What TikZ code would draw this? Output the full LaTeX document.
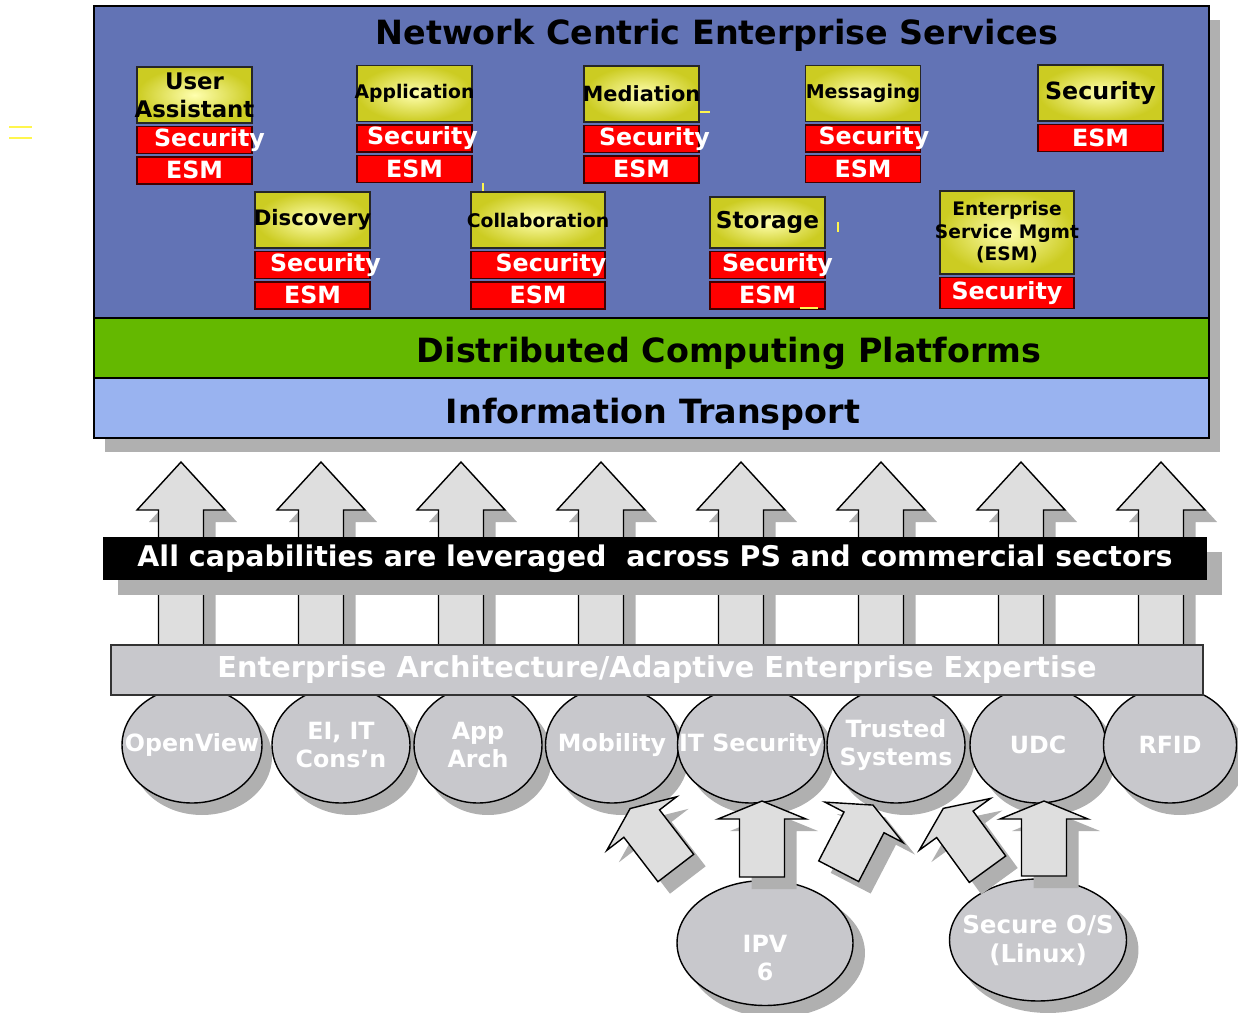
\documentclass[tikz,border=0pt]{standalone}
\usepackage{fontspec}
\setmainfont{DejaVu Sans}
\usetikzlibrary{positioning,shapes.geometric,shadows}

\definecolor{ncesblue}{RGB}{98,115,181}
\definecolor{dcpgreen}{RGB}{100,184,0}
\definecolor{itblue}{RGB}{153,179,240}
\definecolor{hdrin}{RGB}{255,255,175}
\definecolor{hdrout}{RGB}{204,204,34}
\definecolor{capgray}{RGB}{200,200,204}
\definecolor{arrgray}{RGB}{222,222,222}
\definecolor{shadegray}{RGB}{176,176,176}

\newcommand{\fs}[2]{\fontsize{#1}{#2}\selectfont\bfseries}
\newcommand{\nw}[1]{\makebox[0pt]{#1}}
\newcommand{\offtext}[2]{\makebox[0pt]{\hspace{#1}#2}}
% block arrow: tail point, angle, shaft length, head length
\newcommand{\blockarrow}[4]{%
  \fill[arrshade, shift={#1}, shift={(12,12)}, rotate=#2]
    (0,-22.5) -- (#3,-22.5) -- (#3,-44) -- ({#3+#4},0) -- (#3,44) -- (#3,22.5) -- (0,22.5) -- cycle;
  \draw[arrbody, shift={#1}, rotate=#2]
    (0,-22.5) -- (#3,-22.5) -- (#3,-44) -- ({#3+#4},0) -- (#3,44) -- (#3,22.5) -- (0,22.5) -- cycle;
}

\begin{document}
\begin{tikzpicture}[x=0.02cm,y=-0.02cm,
    dropsh/.style 2 args={drop shadow={shadow xshift=#1,shadow yshift=#2,fill=shadegray,opacity=1}},
    panel/.style={draw=black,line width=1pt,minimum width=22.3cm,inner sep=0pt,outer sep=0pt,
        dropsh={0.22cm}{-0.28cm}},
    hdr/.style={draw=black!85,line width=0.8pt,inner color=hdrin,outer color=hdrout,
        minimum width=#1,minimum height=1.12cm,inner sep=0pt,align=center},
    redbox/.style={draw=black!75!red,line width=0.8pt,fill=red,text=white,
        minimum width=#1,minimum height=0.54cm,inner sep=0pt,font=\fs{13.5pt}{15pt}},
    capcircle/.style={ellipse,draw=black,line width=0.8pt,fill=capgray,text=white,
        font=\fs{13.5pt}{16pt},align=center,inner sep=0pt,minimum height=2.32cm,
        minimum width=#1,dropsh={0.2cm}{-0.24cm}},
    arrbody/.style={draw=black,line width=0.8pt,fill=arrgray},
    arrshade/.style={fill=shadegray},
    stray/.style={draw=yellow!70,line width=0.6pt}]

    \useasboundingbox (0,0) rectangle (1238,1012);

    % Layered panel
    \node[panel,fill=ncesblue,minimum height=6.24cm] (nces) at (651.5,162) {};
    \node[panel,fill=dcpgreen,minimum height=1.2cm,below=0pt of nces] (dcp) {};
    \node[panel,fill=itblue,minimum height=1.2cm,below=0pt of dcp] (it) {};
    \node[font=\fs{19pt}{22pt}] (ncestitle) at (717,35) {Network Centric Enterprise Services};
    \node[font=\fs{19pt}{22pt}] (dcptitle) at (729,353) {Distributed Computing Platforms};
    \node[font=\fs{19pt}{22pt}] (ittitle) at (653,414) {Information Transport};

    % Services, first row
    \node[hdr=2.3cm,font=\fs{13pt}{16pt}] (ua) at (194.5,95) {User\\\nw{Assistant}};
    \node[redbox=2.3cm,below=0.04cm of ua] (uasec) {\offtext{0.6cm}{Security}};
    \node[redbox=2.3cm,below=0.04cm of uasec] (uaesm) {ESM};

    \node[hdr=2.3cm,font=\fs{10.7pt}{13pt}] (app) at (414.5,93.5) {\nw{Application}};
    \node[redbox=2.3cm,below=0.04cm of app] (appsec) {\offtext{0.32cm}{Security}};
    \node[redbox=2.3cm,below=0.04cm of appsec] (appesm) {ESM};

    \node[hdr=2.3cm,font=\fs{11.9pt}{14pt}] (med) at (641.5,94) {\nw{Mediation}};
    \node[redbox=2.3cm,below=0.04cm of med] (medsec) {\offtext{0.52cm}{Security}};
    \node[redbox=2.3cm,below=0.04cm of medsec] (medesm) {ESM};

    \node[hdr=2.3cm,font=\fs{10.8pt}{13pt}] (msg) at (863,93.5) {\nw{Messaging}};
    \node[redbox=2.3cm,below=0.04cm of msg] (msgsec) {\offtext{0.44cm}{Security}};
    \node[redbox=2.3cm,below=0.04cm of msgsec] (msgesm) {ESM};

    \node[hdr=2.5cm,font=\fs{13.5pt}{16pt}] (secu) at (1100.5,93) {Security};
    \node[redbox=2.5cm,below=0.04cm of secu] (secuesm) {ESM};

    % Services, second row
    \node[hdr=2.3cm,font=\fs{12.1pt}{14pt}] (disc) at (312.5,220) {\nw{Discovery}};
    \node[redbox=2.3cm,below=0.04cm of disc] (discsec) {\offtext{0.52cm}{Security}};
    \node[redbox=2.3cm,below=0.04cm of discsec] (discesm) {ESM};

    \node[hdr=2.68cm,font=\fs{10.7pt}{13pt}] (coll) at (538,220) {\nw{Collaboration}};
    \node[redbox=2.68cm,below=0.04cm of coll] (collsec) {\offtext{0.52cm}{Security}};
    \node[redbox=2.68cm,below=0.04cm of collsec] (collesm) {ESM};

    \node[hdr=2.3cm,minimum height=1.02cm,font=\fs{13.2pt}{16pt}] (stor) at (767.5,222.5) {\nw{Storage}};
    \node[redbox=2.3cm,below=0.04cm of stor] (storsec) {\offtext{0.4cm}{Security}};
    \node[redbox=2.3cm,below=0.04cm of storsec] (storesm) {ESM};

    \node[hdr=2.68cm,minimum height=1.66cm,font=\fs{10.6pt}{12.8pt}] (esm) at (1007,232.5)
        {Enterprise\\\nw{Service Mgmt}\\(ESM)};
    \node[redbox=2.68cm,minimum height=0.62cm,below=0.04cm of esm] (esmsec) {Security};

    % stray marks
    \draw[stray] (9,127) -- (32,127);
    \draw[stray] (9,138) -- (32,138);
    \draw[stray] (700,112) -- (710,112);
    \draw[stray] (483,183) -- (483,191);
    \draw[stray] (838,222) -- (838,232);
    \draw[stray] (800,308) -- (818,308);

    % Upward arrows
    \foreach \x in {181,321,461,601,741,881,1021,1161}{
        \blockarrow{(\x,650)}{90}{140}{48}
    }

    \node[fill=black,text=white,font=\fs{16.2pt}{18pt},minimum width=22.08cm,minimum height=0.86cm,
        inner sep=0pt,dropsh={0.3cm}{-0.3cm}] (lever) at (655,558.5)
        {\raisebox{-0.05cm}{All capabilities are leveraged\ \ across PS and commercial sectors}};

    % Capabilities
    \node[capcircle=2.8cm] (openview) at (192,745) {\nw{OpenView}};
    \node[capcircle=2.76cm] (eiit) at (341,745) {\nw{EI, IT}\\\nw{Cons’n}};
    \node[capcircle=2.56cm] (apparch) at (478,745) {\nw{App}\\\nw{Arch}};
    \node[capcircle=2.66cm] (mobility) at (612,745) {\nw{Mobility}};
    \node[capcircle=2.94cm] (itsec) at (751,745) {\nw{IT Security}};
    \node[capcircle=2.76cm] (trusted) at (896,745) {\nw{Trusted}\\\nw{Systems}};
    \node[capcircle=2.72cm] (udc) at (1038,745) {\nw{UDC}};
    \node[capcircle=2.66cm] (rfid) at (1170,745) {\nw{RFID}};

    \node[draw=black!80,line width=0.8pt,fill=capgray,text=white,font=\fs{16.4pt}{18pt},
        minimum width=21.84cm,minimum height=1cm,inner sep=0pt] (ea) at (657,670)
        {Enterprise Architecture/Adaptive Enterprise Expertise};

    \node[capcircle=3.52cm,minimum height=2.5cm,dropsh={0.24cm}{-0.2cm}] (ipv) at (765,943)
        {\strut\\IPV\\6};
    \node[capcircle=3.54cm,minimum height=2.44cm,font=\fs{14pt}{16.5pt},dropsh={0.24cm}{-0.2cm}] (secos) at (1038,940)
        {\nw{Secure O/S}\\\nw{(Linux)}};

    % Feeding arrows
    \blockarrow{(675.8,868)}{127.5}{56}{19}
    \blockarrow{(762,877)}{90}{58}{18}
    \blockarrow{(838.7,871.2)}{62.6}{55}{19.5}
    \blockarrow{(987.5,869.2)}{126}{55.5}{19.7}
    \blockarrow{(1044,876)}{90}{57}{18}

\end{tikzpicture}
\end{document}
